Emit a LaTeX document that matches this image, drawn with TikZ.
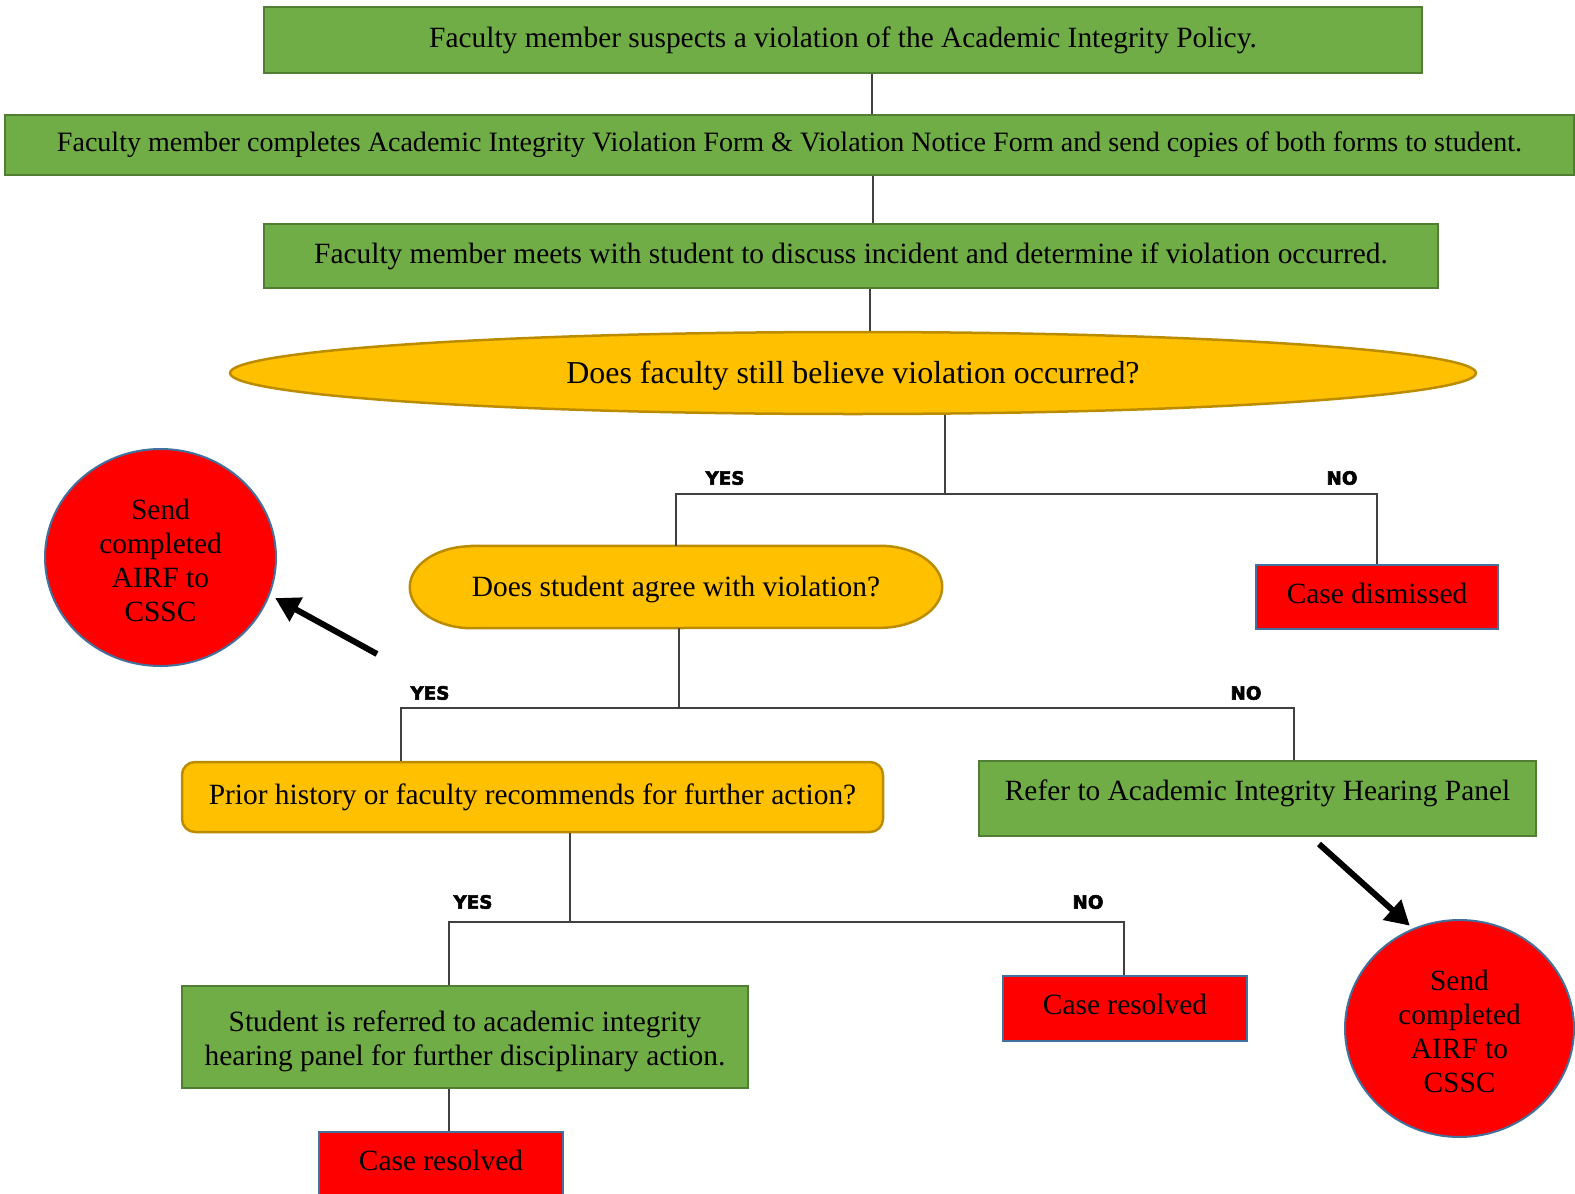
\documentclass[tikz,border=0pt]{standalone}
\usepackage{fontspec}
\setmainfont{Liberation Serif}
\newfontfamily\labfont{DejaVu Sans}[BoldFeatures={FakeBold=3}]
\usetikzlibrary{shapes.geometric,arrows.meta,backgrounds}
\definecolor{gfill}{HTML}{70AD47}
\definecolor{gline}{HTML}{507E32}
\definecolor{ofill}{HTML}{FFC000}
\definecolor{oline}{HTML}{BC8C00}
\definecolor{rfill}{HTML}{FF0000}
\definecolor{rline}{HTML}{41719C}
\definecolor{connc}{HTML}{404040}
\newcommand\msz{\fontsize{29.4}{34}\selectfont}
\begin{document}
\begin{tikzpicture}[x=1pt,y=-1pt,
  gbox/.style={rectangle, fill=gfill, draw=gline, line width=2.5pt, inner sep=0pt, font=\msz, align=center},
  rbox/.style={rectangle, fill=rfill, draw=rline, line width=2.5pt, inner sep=0pt, font=\msz, align=center},
  obox/.style={rectangle, fill=ofill, draw=oline, line width=2.5pt, inner sep=0pt, font=\msz, align=center},
  rcirc/.style={ellipse, fill=rfill, draw=rline, line width=2pt, inner sep=0pt, font=\msz, align=center},
  txt/.style={font=\msz, align=center, inner sep=0pt},
  lab/.style={font=\labfont\bfseries\fontsize{18.3}{20}\selectfont, inner sep=0pt},
  conn/.style={draw=connc, line width=1.5pt},
  bigarrow/.style={line width=6pt, -{Triangle[length=24pt,width=26pt]}}]
\useasboundingbox (0,0) rectangle (1575,1194);

% top boxes
\node[gbox, minimum width=1158pt, minimum height=66pt] (b1) at (843,40)
  {Faculty member suspects a violation of the Academic Integrity Policy.};
\node[gbox, minimum width=1569pt, minimum height=60pt, font=\fontsize{28.05}{32}\selectfont] (b2) at (789.5,145)
  {Faculty member completes Academic Integrity Violation Form \& Violation Notice Form and send copies of both forms to student.};
\node[gbox, minimum width=1174pt, minimum height=64pt] (b3) at (851,256)
  {Faculty member meets with student to discuss incident and determine if violation occurred.};
\node[ellipse, fill=ofill, draw=oline, line width=2.5pt, inner sep=0pt, minimum width=1246pt, minimum height=82pt,
  label={[txt, font=\fontsize{31.9}{36}\selectfont, yshift=-3pt]center:Does faculty still believe violation occurred?}] (e1) at (853,373) {};

\coordinate (k1) at (872,0);
\coordinate (k2) at (873,0);
\coordinate (k3) at (870,0);
\draw[conn] (b1.south -| k1) -- (b2.north -| k1);
\draw[conn] (b2.south -| k2) -- (b3.north -| k2);
\draw[conn] (b3.south -| k3) -- (e1.north -| k3);

% second level
\node[rectangle, inner sep=0pt, minimum width=532pt, minimum height=82pt,
  label={[txt, yshift=-2pt]center:Does student agree with violation?}] (e2) at (676,587) {};
\begin{scope}[on background layer]
\draw[fill=ofill, draw=oline, line width=2.5pt]
  ([xshift=62pt]e2.north west) -- ([xshift=-62pt]e2.north east)
  arc[start angle=-90, end angle=90, x radius=62, y radius=41]
  -- ([xshift=62pt]e2.south west)
  arc[start angle=90, end angle=270, x radius=62, y radius=41] -- cycle;
\end{scope}
\node[rbox, minimum width=242pt, minimum height=64pt,
  label={[txt, yshift=4pt]center:Case dismissed}] (cd) at (1377,597) {};
\node[rcirc, minimum width=231pt, minimum height=217pt,
  label={[txt, yshift=-3pt]center:Send\\completed\\AIRF to\\CSSC}] (c1) at (160.5,557.5) {};

\coordinate (s1) at (945,494);
\draw[conn] (e1.south -| s1) -- (s1);
\draw[conn] (e2.north) |- (s1) -| (cd.north);
\node[lab] (y1) at (725,478) {YES};
\node[lab] (n1) at (1342,478) {NO};

\coordinate (a1s) at (377,654);
\draw[bigarrow, shorten >=6pt] (a1s) -- (c1.-19);

% third level
\node[obox, rounded corners=13pt, minimum width=701pt, minimum height=70pt] (pr) at (532.5,797)
  {Prior history or faculty recommends for further action?};
\node[gbox, minimum width=557pt, minimum height=75pt,
  label={[txt, yshift=5pt]center:Refer to Academic Integrity Hearing Panel}] (rf) at (1257.5,798.5) {};

\coordinate (s2) at (679,708);
\coordinate (l2) at (401,708);
\coordinate (r2) at (1294,708);
\draw[conn] (e2.south -| s2) -- (s2);
\draw[conn] (pr.north -| l2) -- (l2) -- (r2) -- (rf.north -| r2);
\node[lab] (y2) at (430,693) {YES};
\node[lab] (n2) at (1246,693) {NO};

% fourth level
\node[gbox, minimum width=566pt, minimum height=102pt,
  label={[txt, yshift=-4pt]center:Student is referred to academic integrity\\hearing panel for further disciplinary action.}] (st) at (465,1037) {};
\node[rbox, minimum width=244pt, minimum height=65pt,
  label={[txt, yshift=4pt]center:Case resolved}] (cr1) at (1125,1008.5) {};
\node[rbox, minimum width=244pt, minimum height=65pt,
  label={[txt, yshift=4pt]center:Case resolved}] (cr2) at (441,1164.5) {};
\node[rcirc, minimum width=229pt, minimum height=217pt,
  label={[txt, yshift=-3pt]center:Send\\completed\\AIRF to\\CSSC}] (c2) at (1459.5,1028.5) {};

\coordinate (s3) at (570,922);
\coordinate (l3) at (449,922);
\coordinate (r3) at (1124,922);
\draw[conn] (pr.south -| s3) -- (s3);
\draw[conn] (st.north -| l3) -- (l3) -- (r3) -- (cr1.north -| r3);
\draw[conn] (st.south -| l3) -- (cr2.north -| l3);
\node[lab] (y3) at (473,902) {YES};
\node[lab] (n3) at (1088,902) {NO};

\coordinate (a2s) at (1319,844);
\draw[bigarrow, shorten >=4pt] (a2s) -- (c2.115);
\end{tikzpicture}
\end{document}
